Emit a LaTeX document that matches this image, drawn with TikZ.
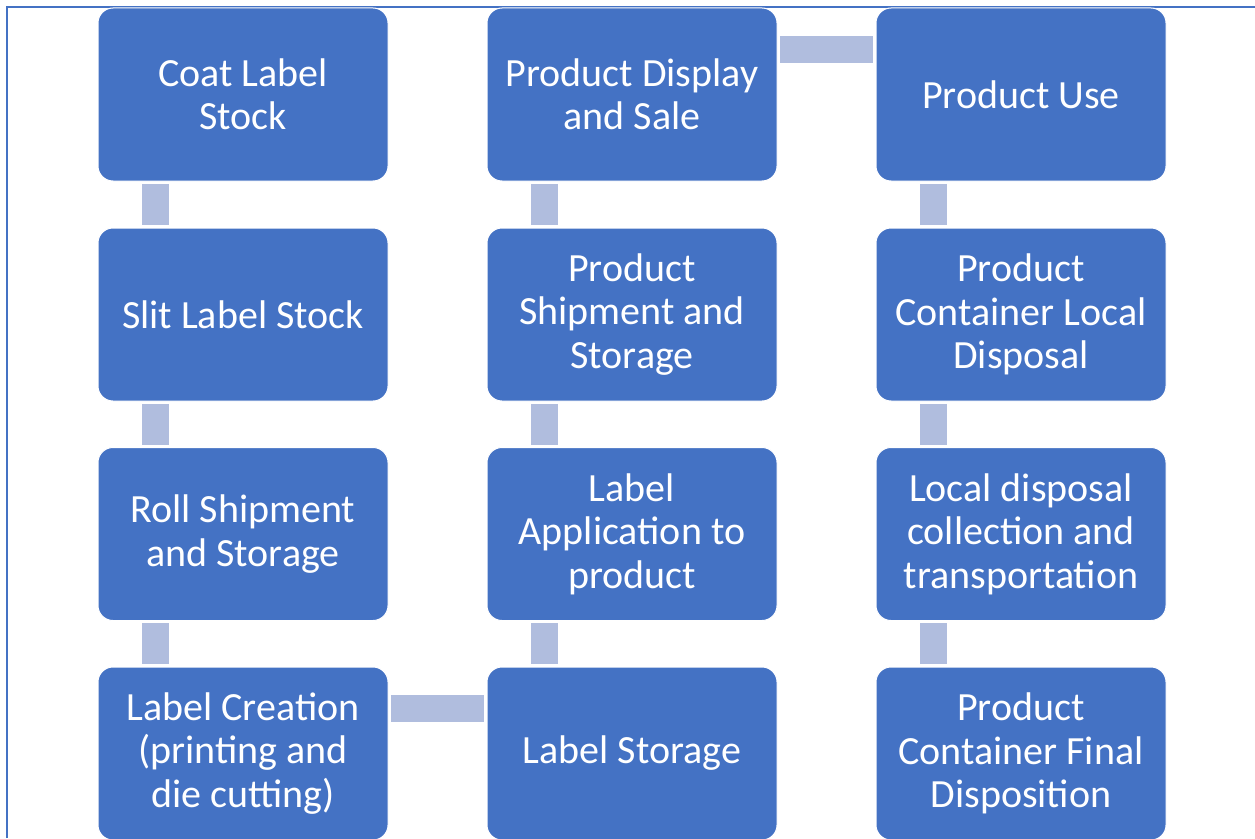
\documentclass[tikz,border=0pt]{standalone}
\usepackage{fontspec}
\setmainfont{Carlito}
\usetikzlibrary{calc}
\definecolor{boxblue}{RGB}{68,114,196}
\definecolor{linkblue}{RGB}{176,189,222}
\begin{document}
\begin{tikzpicture}[x=0.75pt,y=-0.75pt,
  stage/.style={draw=white, line width=0.75pt, fill=boxblue, rounded corners=11.25pt,
    minimum width=217.5pt, minimum height=129.75pt, inner sep=0pt,
    text=white, align=center, font=\fontsize{30}{32.6}\selectfont},
  link/.style={draw=linkblue, line width=20.25pt, shorten <=1.75pt, shorten >=1.75pt}]
\useasboundingbox (0,0) rectangle (1255,838);
\clip (0,0) rectangle (1255,838);
% page frame
\draw[boxblue, line width=1.5pt] (7,838) -- (7,7) -- (1255,7);
% column 1
\node[stage] (a1) at (243,94.5) {Coat Label\\Stock};
\node[stage] (a2) at (243,314.5) {Slit Label Stock};
\node[stage] (a3) at (243,534) {Roll Shipment\\and Storage};
\node[stage] (a4) at (243,753.5) {Label Creation\\(printing and\\die cutting)};
% column 2
\node[stage] (b1) at (632,94.5) {Product Display\\and Sale};
\node[stage] (b2) at (632,314.5) {Product\\Shipment and\\Storage};
\node[stage] (b3) at (632,534) {Label\\Application to\\product};
\node[stage] (b4) at (632,753.5) {Label Storage};
% column 3
\node[stage] (c1) at (1021,94.5) {Product Use};
\node[stage] (c2) at (1021,314.5) {Product\\Container Local\\Disposal};
\node[stage] (c3) at (1021,534) {Local disposal\\collection and\\transportation};
\node[stage] (c4) at (1021,753.5) {Product\\Container Final\\Disposition};
% vertical links
\foreach \u/\v in {a1/a2,a2/a3,a3/a4,b1/b2,b2/b3,b3/b4,c1/c2,c2/c3,c3/c4}{
  \draw[link] ($(\u.south west)!0.2!(\u.south east)$) -- ($(\v.north west)!0.2!(\v.north east)$);
}
% horizontal links
\draw[link] ($(a4.north east)!0.24!(a4.south east)$) -- ($(b4.north west)!0.24!(b4.south west)$);
\draw[link] ($(b1.north east)!0.24!(b1.south east)$) -- ($(c1.north west)!0.24!(c1.south west)$);
\end{tikzpicture}
\end{document}
